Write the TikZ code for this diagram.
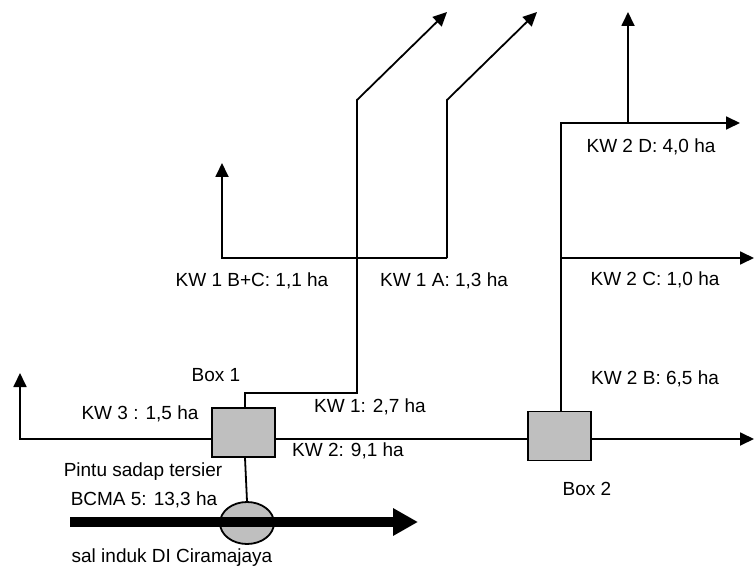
\documentclass[tikz,border=0pt]{standalone}
\usepackage{fontspec}
\setmainfont{Liberation Sans}
\usetikzlibrary{arrows.meta,shapes.geometric}
\begin{document}
\begin{tikzpicture}
	[x=1pt,y=-1pt,
	font=\fontsize{19}{22}\selectfont,
	kotak/.style={draw,fill=gray!50,line width=1.8pt,minimum width=63pt,minimum height=49pt,inner sep=0pt},
	pintu/.style={ellipse,draw,fill=gray!50,line width=1.8pt,minimum width=54pt,minimum height=42pt,inner sep=0pt},
	saluran/.style={line width=1.8pt},
	panah/.style={saluran,-{Triangle[length=14pt,width=13pt]}},
	induk/.style={line width=10pt,-{Triangle[length=25pt,width=26pt]}},
	teks/.style={inner sep=0pt}]
	\useasboundingbox (0,0) rectangle (754,569);
	% kotak bagi
	\node (box1) at (243.5,432.5) [kotak] {};
	\node (box2) at (559.5,436) [kotak] {};
	% titik belok
	\coordinate (a1) at (275,439);
	\coordinate (a2) at (528,439);
	\coordinate (a3) at (591,439);
	\coordinate (a4) at (754,439);
	\coordinate (k3a) at (212,439);
	\coordinate (k3b) at (20,439);
	\coordinate (k3c) at (20,373);
	\coordinate (k1a) at (245,408);
	\coordinate (k1b) at (245,393);
	\coordinate (k1c) at (357,393);
	\coordinate (k1d) at (357,100);
	\coordinate (k1e) at (447,12);
	\coordinate (kbc) at (222,258);
	\coordinate (kbcup) at (222,163);
	\coordinate (kaa) at (447,258);
	\coordinate (kab) at (447,100);
	\coordinate (kac) at (537,12);
	\coordinate (k2a) at (561,412);
	\coordinate (k2b) at (561,123);
	\coordinate (k2c) at (740,123);
	\coordinate (k2d) at (628,123);
	\coordinate (k2e) at (628,12);
	\coordinate (k2f) at (561,258);
	\coordinate (k2g) at (754,258);
	\coordinate (s1) at (70,522);
	\coordinate (s2) at (418,522);
	% saluran
	\draw [panah] (k3a) -- (k3b) -- (k3c);
	\draw [saluran,line width=2.4pt] (a1) -- (a2);
	\draw [panah] (a3) -- (a4);
	\draw [panah] (k1a) -- (k1b) -- (k1c) -- (k1d) -- (k1e);
	\draw [panah] (kaa) -- (kbc) -- (kbcup);
	\draw [panah] (kaa) -- (kab) -- (kac);
	\draw [panah] (k2a) -- (k2b) -- (k2c);
	\draw [panah] (k2d) -- (k2e);
	\draw [panah] (k2f) -- (k2g);
	% pintu sadap
	\node (sadap) at (247,523) [pintu] {};
	\draw [saluran] (box1.south -| k1a) -- (sadap.north);
	\draw [induk] (s1) -- (s2);
	% teks
	\path node at (216,375) [teks] {Box 1}
		  node at (140,414) [teks] {KW 3 : 1,5 ha}
		  node at (252,281) [teks] {KW 1 B+C: 1,1 ha}
		  node at (444,281) [teks] {KW 1 A: 1,3 ha}
		  node at (370,407) [teks] {KW 1: 2,7 ha}
		  node at (348,451) [teks] {KW 2: 9,1 ha}
		  node at (651,147) [teks] {KW 2 D: 4,0 ha}
		  node at (655,280) [teks] {KW 2 C: 1,0 ha}
		  node at (655,379) [teks] {KW 2 B: 6,5 ha}
		  node at (587,489) [teks] {Box 2}
		  node at (143,472) [teks] {Pintu sadap tersier}
		  node at (144,500) [teks] {BCMA 5: 13,3 ha}
		  node at (172,558) [teks] {sal induk DI Ciramajaya};
\end{tikzpicture}
\end{document}
